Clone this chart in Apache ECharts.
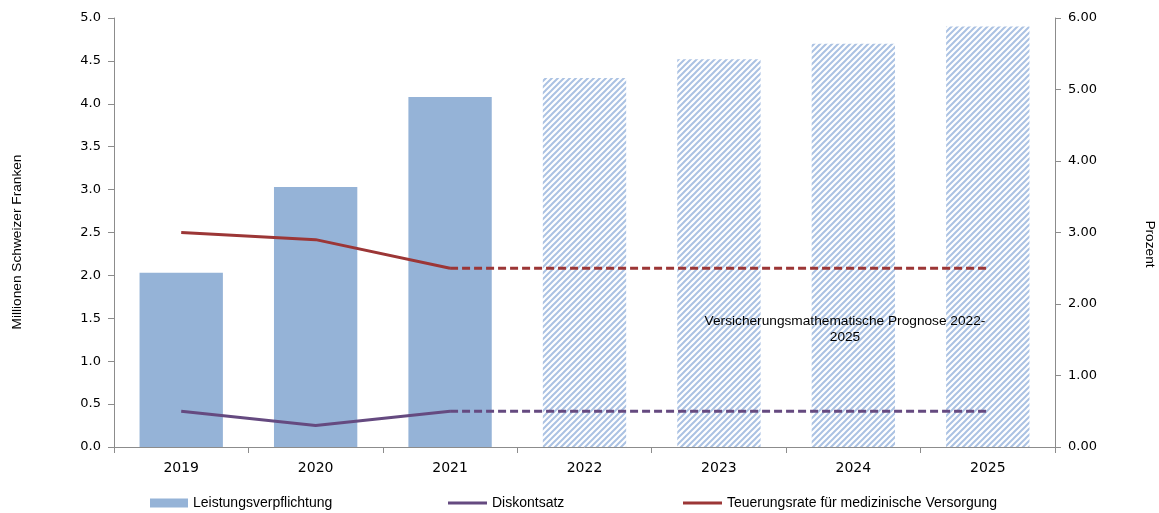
<!DOCTYPE html>
<html>
<head>
<meta charset="utf-8">
<script src="https://cdn.jsdelivr.net/npm/echarts@6/dist/echarts.min.js"></script>
<style>
html,body{margin:0;padding:0;background:#fff;}
#chart{width:1159px;height:513px;}
</style>
</head>
<body>
<div id="chart"></div>
<script>
// ---- data ----
var categories = ['2019','2020','2021','2022','2023','2024','2025'];
var leistung = [2.03, 3.03, 4.08, 4.30, 4.52, 4.70, 4.90];
var forecastStart = 3; // index of first forecast year (hatched)
var diskontActual = [0.5, 0.3, 0.5, null, null, null, null];
var diskontForecast = [null, null, 0.5, 0.5, 0.5, 0.5, 0.5];
var teuerungActual = [3.0, 2.9, 2.5, null, null, null, null];
var teuerungForecast = [null, null, 2.5, 2.5, 2.5, 2.5, 2.5];
var leftTicks = {min: 0, max: 5, interval: 0.5};
var rightTicks = {min: 0, max: 6, interval: 1};
var leftTitle = 'Millionen Schweizer Franken';
var rightTitle = 'Prozent';
var noteText = 'Versicherungsmathematische Prognose 2022-\n2025';

// ---- hatch pattern ----
var T = 6;
var tile = document.createElement('canvas');
tile.width = T; tile.height = T;
var c = tile.getContext('2d');
c.fillStyle = '#ffffff'; c.fillRect(0,0,T,T);
c.strokeStyle = '#abc2e3'; c.lineWidth = 2;
c.beginPath();
c.moveTo(-1,T+1); c.lineTo(T+1,-1);
c.moveTo(-1,1); c.lineTo(1,-1);
c.moveTo(T-1,T+1); c.lineTo(T+1,T-1);
c.stroke();

var barBlue = '#95b3d7';
var purple = '#654a80';
var red = '#9c3636';

var barData = leistung.map(function(v,i){
  if (i >= forecastStart) return {value: v, itemStyle: {color: {image: tile, repeat: 'repeat'}}};
  return v;
});

var axisGray = '#8c8c8c';
var tickFont = {fontFamily: 'DejaVu Sans', fontSize: 13, color: '#000'};
var legendText = {fontFamily: 'Liberation Sans', fontSize: 14, color: '#000'};
var titleFont = '13.7px "Liberation Sans"';

var chart = echarts.init(document.getElementById('chart'));
chart.setOption({
  animation: false,
  grid: {left: 114, right: 104, top: 18, bottom: 66, containLabel: false, outerBoundsMode: 'none'},
  legend: [
    {left: 150, top: 496, padding: 0, icon: 'rect', itemWidth: 38, itemHeight: 9,
     textStyle: legendText, data: ['Leistungsverpflichtung']},
    {left: 448, top: 496, padding: 0, icon: 'rect', itemWidth: 39, itemHeight: 3,
     textStyle: legendText, data: ['Diskontsatz']},
    {left: 683, top: 496, padding: 0, icon: 'rect', itemWidth: 39, itemHeight: 3,
     textStyle: legendText, data: ['Teuerungsrate für medizinische Versorgung']}
  ],
  xAxis: {
    type: 'category', data: categories,
    axisLine: {lineStyle: {color: axisGray}},
    axisTick: {show: true, alignWithLabel: false, length: 6, lineStyle: {color: axisGray}},
    axisLabel: {fontFamily: 'DejaVu Sans', fontSize: 14, color: '#000', margin: 14}
  },
  yAxis: [
    {type: 'value', min: leftTicks.min, max: leftTicks.max, interval: leftTicks.interval, position: 'left',
     axisLine: {show: true, lineStyle: {color: axisGray}},
     axisTick: {show: true, length: 6, lineStyle: {color: axisGray}},
     splitLine: {show: false},
     axisLabel: Object.assign({margin: 13, formatter: function(v){return v.toFixed(1);}}, tickFont)},
    {type: 'value', min: rightTicks.min, max: rightTicks.max, interval: rightTicks.interval, position: 'right',
     axisLine: {show: true, lineStyle: {color: axisGray}},
     axisTick: {show: true, length: 6, lineStyle: {color: axisGray}},
     splitLine: {show: false},
     axisLabel: Object.assign({margin: 13, formatter: function(v){return v.toFixed(2);}}, tickFont)}
  ],
  series: [
    {name: 'Leistungsverpflichtung', type: 'bar', data: barData, barWidth: '62%',
     itemStyle: {color: barBlue}, z: 1},
    {name: 'Diskontsatz', type: 'line', yAxisIndex: 1, data: diskontActual, symbol: 'none',
     itemStyle: {color: purple}, lineStyle: {color: purple, width: 3}, z: 3},
    {name: 'Diskontsatz Prognose', type: 'line', yAxisIndex: 1, data: diskontForecast, symbol: 'none',
     itemStyle: {color: purple}, lineStyle: {color: purple, width: 3, type: [8, 4]}, z: 3},
    {name: 'Teuerungsrate für medizinische Versorgung', type: 'line', yAxisIndex: 1, data: teuerungActual, symbol: 'none',
     itemStyle: {color: red}, lineStyle: {color: red, width: 3}, z: 3},
    {name: 'Teuerung Prognose', type: 'line', yAxisIndex: 1, data: teuerungForecast, symbol: 'none',
     itemStyle: {color: red}, lineStyle: {color: red, width: 3, type: [8, 4]}, z: 3}
  ],
  graphic: [
    {type: 'text', x: 845, y: 313, z: 10,
     style: {text: noteText, align: 'center', textAlign: 'center',
             font: titleFont, fill: '#000', lineHeight: 16}},
    {type: 'text', x: 17, y: 242, rotation: Math.PI / 2, z: 10,
     style: {text: leftTitle, align: 'center', verticalAlign: 'middle', font: titleFont, fill: '#000'}},
    {type: 'text', x: 1150, y: 244, rotation: -Math.PI / 2, z: 10,
     style: {text: rightTitle, align: 'center', verticalAlign: 'middle', font: titleFont, fill: '#000'}}
  ]
});
</script>
</body>
</html>
